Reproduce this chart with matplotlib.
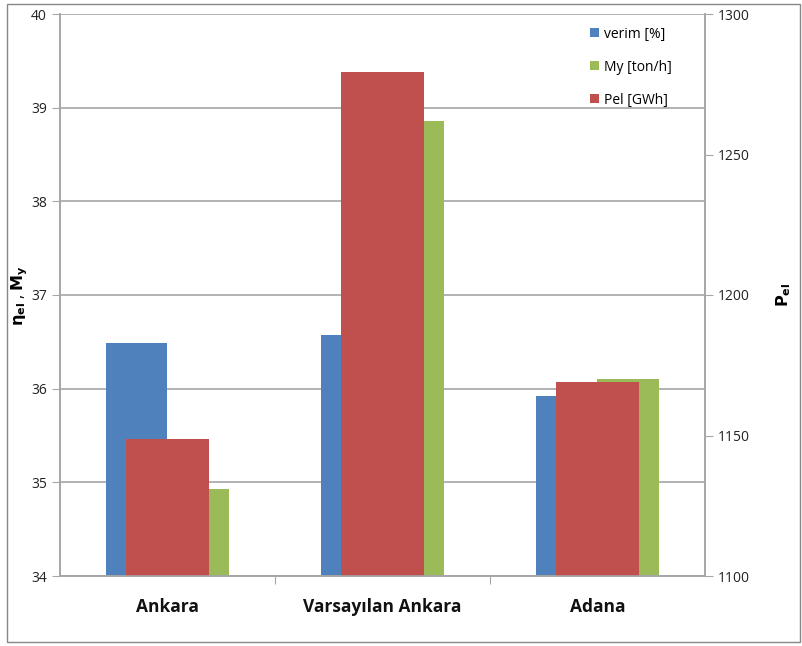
import matplotlib
matplotlib.use("Agg")
import matplotlib.pyplot as plt
import numpy as np
from matplotlib.patches import Rectangle

categories = ["Ankara", "Varsayılan Ankara", "Adana"]
verim = [36.49, 36.57, 35.92]
my = [34.93, 38.86, 36.10]
pel = [1148.8, 1279.4, 1169.0]

left_ticks = [34, 35, 36, 37, 38, 39, 40]
right_ticks = [1100, 1150, 1200, 1250, 1300]

plt.rcParams['font.family'] = ['Open Sans', 'DejaVu Sans']

fig = plt.figure(figsize=(8.03, 6.46), dpi=100)
ax = fig.add_axes([60/803, 1-576/646, (705-60)/803, (576-14)/646])
ax2 = ax.twinx()

x = np.arange(len(categories))
w = 0.286
blue = "#4F81BD"
green = "#9BBB59"
red = "#C0504D"
grid = "#A6A6A6"

ax.bar(x - w/2, verim, width=w, color=blue, label="verim [%]", zorder=2)
ax.bar(x + w/2, my, width=w, color=green, label="My [ton/h]", zorder=2)
ax2.bar(x, pel, width=0.39, color=red, label="Pel [GWh]", zorder=2)

ax.set_xlim(-0.5, 2.5)
ax.set_ylim(34, 40)
ax2.set_ylim(1100, 1300)
ax.set_yticks(left_ticks)
ax2.set_yticks(right_ticks)
ax.yaxis.grid(True, color=grid, linewidth=1.2, zorder=0)
ax.set_axisbelow(True)

ax.set_xticks([0.5, 1.5])
ax.set_xticklabels([])
ax.tick_params(axis='x', length=6, color=grid, direction='out')
for xi, c in zip(x, categories):
    ax.text(xi, -0.04, c, transform=ax.get_xaxis_transform(), ha='center', va='top',
            fontsize=12.5, fontweight='bold', color='#111111')

ax.tick_params(axis='y', length=6, color=grid, labelsize=10, labelcolor='#222222')
ax2.tick_params(axis='y', length=6, color=grid, labelsize=10, labelcolor='#222222')

for a in (ax, ax2):
    for s in a.spines.values():
        s.set_color(grid)
        s.set_linewidth(1.2)
    a.spines['top'].set_visible(False)

ax.set_ylabel(r"$\mathbf{\eta_{el}}$ , $\mathbf{M_{y}}$", fontsize=11.5)
ax.yaxis.set_label_coords(-0.047, 0.5)
ax2.set_ylabel(r"$\mathbf{P_{el}}$", fontsize=11.5)
ax2.yaxis.set_label_coords(1.108, 0.5)

h1, l1 = ax.get_legend_handles_labels()
h2, l2 = ax2.get_legend_handles_labels()
leg = ax2.legend(h1 + h2, l1 + l2, loc='upper left', bbox_to_anchor=((578-60)/645, 1.0),
                 frameon=False, fontsize=10, handlelength=0.6, handleheight=0.6,
                 labelspacing=1.3, handletextpad=0.4)

fig.patches.append(Rectangle((7/803, 4/646), (800-7)/803, (642-4)/646,
                             transform=fig.transFigure, fill=False,
                             edgecolor="#888888", linewidth=1.0))

fig.savefig("out.png", dpi=100)
